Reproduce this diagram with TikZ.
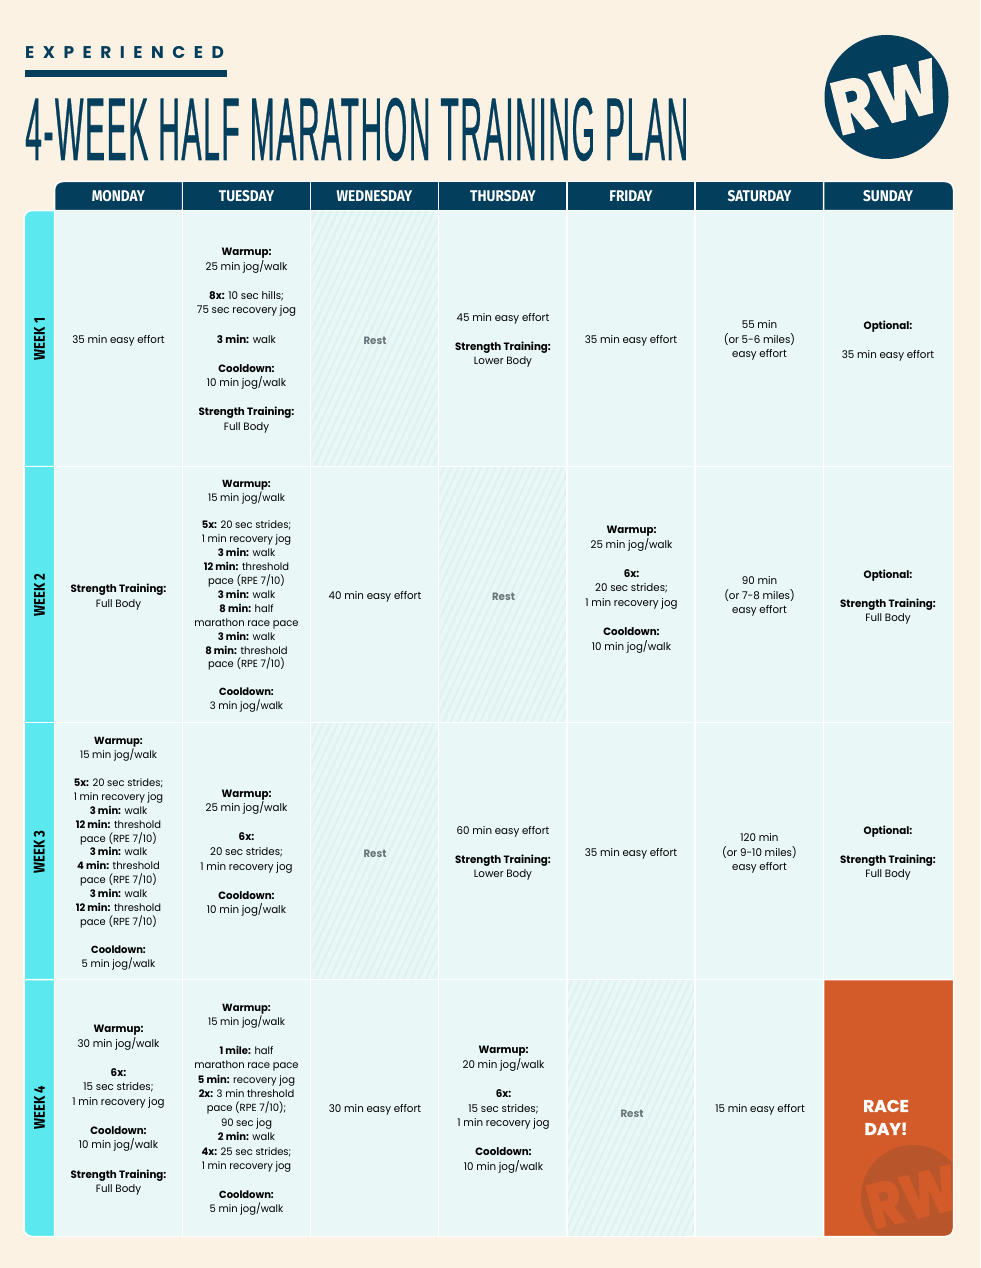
\documentclass[tikz,border=0pt]{standalone}
\usepackage{fontspec}
\setmainfont{Poppins}
\newfontfamily\bodyfont[FakeStretch=0.97]{Poppins}
\newfontfamily\hdrfont[FakeStretch=0.88]{Fira Sans}
\newfontfamily\weekfont[FakeStretch=0.84]{Fira Sans}
\newfontfamily\titlefont[FakeBold=0.9,LetterSpace=5]{Liberation Sans}
\newfontfamily\kickerfont[LetterSpace=50]{Poppins}
\newfontfamily\logofont[FakeStretch=0.86,FakeBold=2.5]{Poppins}
\newfontfamily\racefont[FakeBold=1]{Poppins}
\definecolor{bgc}{HTML}{FCF2E4}
\definecolor{navy}{HTML}{033E5C}
\definecolor{cellc}{HTML}{E9F8F7}
\definecolor{hatchc}{HTML}{DEF0EF}
\definecolor{cyanc}{HTML}{5BE8EE}
\definecolor{orangec}{HTML}{D35B29}
\definecolor{orangedk}{HTML}{B9552A}
\definecolor{restc}{HTML}{6A7579}
\newcommand{\bb}[1]{\textbf{#1}}
\newcommand{\gap}{\\[14.55pt]}
\newcommand{\gapd}{\\[13.9pt]}
\newcommand{\gapm}{\\[14.4pt]}
\tikzset{
  x=1pt,y=-1pt,
  cellbox/.style={fill=cellc,draw=white,line width=1.5pt},
  celltext/.style={align=center,inner sep=0pt,text=black,yshift=-1.2pt,font=\bodyfont\fontsize{10.6}{14.55}\selectfont},
  densetext/.style={celltext,font=\bodyfont\fontsize{10.3}{13.9}\selectfont},
  midtext/.style={celltext,font=\bodyfont\fontsize{10.3}{14.4}\selectfont},
  resttext/.style={celltext,text=restc,font=\bodyfont\fontsize{10.6}{14.55}\selectfont\bfseries},
  dayhead/.style={text=white,inner sep=0pt,font=\hdrfont\fontsize{15.5}{16}\selectfont\bfseries},
  weeklabel/.style={text=black,inner sep=0pt,rotate=90,font=\weekfont\fontsize{15.5}{16}\selectfont\bfseries},
  hatchline/.style={hatchc,line width=1.9pt},
}
\newcommand{\hatched}[4]{% x1 y1 x2 y2
  \fill[cellc] (#1,#2) rectangle (#3,#4);
  \begin{scope}
    \clip (#1+1,#2+1) rectangle (#3-1,#4-1);
    \foreach \k in {-27,...,27}{
      \draw[hatchline] ({(#1+#3)/2+\k*7.4-60},#4) -- ({(#1+#3)/2+\k*7.4+60},#2);
    }
  \end{scope}
  \draw[white,line width=1.5pt] (#1,#2) rectangle (#3,#4);
}
\begin{document}
\begin{tikzpicture}
\useasboundingbox (0,0) rectangle (980,1268);
\fill[bgc] (0,0) rectangle (980,1268);

% heading
\node[anchor=base west,inner sep=0pt,text=navy,font=\kickerfont\fontsize{17}{18}\selectfont\bfseries] (kicker) at (25,59) {EXPERIENCED};
\fill[navy] (24.5,70.5) rectangle (226.5,77);
\node[anchor=base west,inner sep=0pt,text=navy] (title) at (25,160)
  {\resizebox{663pt}{62pt}{\titlefont 4-WEEK HALF MARATHON TRAINING PLAN}};

% logo
\fill[navy] (886.5,97) circle (62);
\node[inner sep=0pt,text=bgc,rotate=14,font=\logofont\fontsize{74}{74}\selectfont\bfseries] (logo) at (886,97) {RW};

% header row
\path[fill=navy,draw=white,line width=1.5pt] (54.5,210.5) -- (54.5,190) .. controls (54.5,185) and (58,181.5) .. (63,181.5) -- (182.5,181.5) -- (182.5,210.5) -- cycle;
\foreach \a/\b in {182.5/310.5,310.5/438.5,438.5/567,567/695,695/823.5}
  \path[fill=navy,draw=white,line width=1.5pt] (\a,181.5) rectangle (\b,210.5);
\path[fill=navy,draw=white,line width=1.5pt] (823.5,210.5) -- (823.5,181.5) -- (945,181.5) .. controls (950,181.5) and (953.5,185) .. (953.5,190) -- (953.5,210.5) -- cycle;
\node[dayhead] (mon) at (118.5,196) {MONDAY};
\node[dayhead] (tue) at (246.5,196) {TUESDAY};
\node[dayhead] (wed) at (374.5,196) {WEDNESDAY};
\node[dayhead] (thu) at (503,196) {THURSDAY};
\node[dayhead] (fri) at (631,196) {FRIDAY};
\node[dayhead] (sat) at (759.5,196) {SATURDAY};
\node[dayhead] (sun) at (888,196) {SUNDAY};

% week tabs
\path[fill=cyanc,draw=white,line width=1.5pt] (54.5,210.5) -- (32.5,210.5) .. controls (27.5,210.5) and (24,214) .. (24,219) -- (24,466.5) -- (54.5,466.5) -- cycle;
\path[fill=cyanc,draw=white,line width=1.5pt] (24,466.5) rectangle (54.5,722.5);
\path[fill=cyanc,draw=white,line width=1.5pt] (24,722.5) rectangle (54.5,979.5);
\path[fill=cyanc,draw=white,line width=1.5pt] (54.5,979.5) -- (24,979.5) -- (24,1228) .. controls (24,1233) and (27.5,1236.5) .. (32.5,1236.5) -- (54.5,1236.5) -- cycle;
\node[weeklabel] (w1) at (39.5,339) {WEEK 1};
\node[weeklabel] (w2) at (39.5,595) {WEEK 2};
\node[weeklabel] (w3) at (39.5,852) {WEEK 3};
\node[weeklabel] (w4) at (39.5,1108) {WEEK 4};

% plain cells
\foreach \a/\b in {54.5/182.5,182.5/310.5,438.5/567,567/695,695/823.5,823.5/953.5}
  \path[cellbox] (\a,210.5) rectangle (\b,466.5);
\foreach \a/\b in {54.5/182.5,182.5/310.5,310.5/438.5,567/695,695/823.5,823.5/953.5}
  \path[cellbox] (\a,466.5) rectangle (\b,722.5);
\foreach \a/\b in {54.5/182.5,182.5/310.5,438.5/567,567/695,695/823.5,823.5/953.5}
  \path[cellbox] (\a,722.5) rectangle (\b,979.5);
\foreach \a/\b in {54.5/182.5,182.5/310.5,310.5/438.5,438.5/567,695/823.5}
  \path[cellbox] (\a,979.5) rectangle (\b,1236.5);

% rest cells
\hatched{310.5}{210.5}{438.5}{466.5}
\hatched{438.5}{466.5}{567}{722.5}
\hatched{310.5}{722.5}{438.5}{979.5}
\hatched{567}{979.5}{695}{1236.5}

% race day cell
\path[fill=orangec] (823.5,979.5) -- (953.5,979.5) -- (953.5,1228) .. controls (953.5,1233) and (950,1236.5) .. (945,1236.5) -- (823.5,1236.5) -- cycle;
\begin{scope}
  \clip (823.5,979.5) -- (952.5,979.5) -- (952.5,1228) .. controls (952.5,1232.5) and (949.5,1235.5) .. (945,1235.5) -- (823.5,1235.5) -- cycle;
  \fill[orangedk] (913,1197) circle (52);
  \node[inner sep=0pt,text=orangec,rotate=14,font=\logofont\fontsize{62}{62}\selectfont\bfseries] (wmark) at (912.5,1197) {RW};
\end{scope}
\draw[white,line width=1.5pt] (953.5,979.5) -- (953.5,1228) .. controls (953.5,1233) and (950,1236.5) .. (945,1236.5) -- (823.5,1236.5) -- (823.5,979.5) -- cycle;
\node[align=center,inner sep=0pt,text=white,font=\racefont\fontsize{17}{23}\selectfont\bfseries] (race) at (886,1117.5) {RACE\\DAY!};

% week 1
\node[celltext] (a1) at (118.5,339.5) {35 min easy effort};
\node[celltext] (b1) at (246.5,339.5) {\bb{Warmup:}\\25 min jog/walk\gap\bb{8x:} 10 sec hills;\\75 sec recovery jog\gap\bb{3 min:} walk\gap\bb{Cooldown:}\\10 min jog/walk\gap\bb{Strength Training:}\\Full Body};
\node[resttext] (c1) at (375,340) {Rest};
\node[celltext] (d1) at (503,339) {45 min easy effort\gap\bb{Strength Training:}\\Lower Body};
\node[celltext] (e1) at (631,339.5) {35 min easy effort};
\node[celltext] (f1) at (759.5,339.5) {55 min\\(or 5-6 miles)\\easy effort};
\node[celltext] (g1) at (888,339.5) {\bb{Optional:}\gap 35 min easy effort};

% week 2
\node[celltext] (a2) at (118.5,596) {\bb{Strength Training:}\\Full Body};
\node[densetext] (b2) at (246.5,595) {\bb{Warmup:}\\15 min jog/walk\gapd\bb{5x:} 20 sec strides;\\1 min recovery jog\\\bb{3 min:} walk\\\bb{12 min:} threshold\\pace (RPE 7/10)\\\bb{3 min:} walk\\\bb{8 min:} half\\marathon race pace\\\bb{3 min:} walk\\\bb{8 min:} threshold\\pace (RPE 7/10)\gapd\bb{Cooldown:}\\3 min jog/walk};
\node[celltext] (c2) at (375,595.5) {40 min easy effort};
\node[resttext] (d2) at (503.5,596) {Rest};
\node[celltext] (e2) at (631.5,588.5) {\bb{Warmup:}\\25 min jog/walk\gap\bb{6x:}\\20 sec strides;\\1 min recovery jog\gap\bb{Cooldown:}\\10 min jog/walk};
\node[celltext] (f2) at (759.5,595.5) {90 min\\(or 7-8 miles)\\easy effort};
\node[celltext] (g2) at (888,596) {\bb{Optional:}\gap\bb{Strength Training:}\\Full Body};

% week 3
\node[densetext] (a3) at (118.5,852.5) {\bb{Warmup:}\\15 min jog/walk\gapd\bb{5x:} 20 sec strides;\\1 min recovery jog\\\bb{3 min:} walk\\\bb{12 min:} threshold\\pace (RPE 7/10)\\\bb{3 min:} walk\\\bb{4 min:} threshold\\pace (RPE 7/10)\\\bb{3 min:} walk\\\bb{12 min:} threshold\\pace (RPE 7/10)\gapd\bb{Cooldown:}\\5 min jog/walk};
\node[celltext] (b3) at (246.5,852) {\bb{Warmup:}\\25 min jog/walk\gap\bb{6x:}\\20 sec strides;\\1 min recovery jog\gap\bb{Cooldown:}\\10 min jog/walk};
\node[resttext] (c3) at (375,853) {Rest};
\node[celltext] (d3) at (503,852) {60 min easy effort\gap\bb{Strength Training:}\\Lower Body};
\node[celltext] (e3) at (631,852.5) {35 min easy effort};
\node[celltext] (f3) at (759.5,852.5) {120 min\\(or 9-10 miles)\\easy effort};
\node[celltext] (g3) at (888,852) {\bb{Optional:}\gap\bb{Strength Training:}\\Full Body};

% week 4
\node[celltext] (a4) at (118.5,1109) {\bb{Warmup:}\\30 min jog/walk\gap\bb{6x:}\\15 sec strides;\\1 min recovery jog\gap\bb{Cooldown:}\\10 min jog/walk\gap\bb{Strength Training:}\\Full Body};
\node[midtext] (b4) at (246.5,1108.5) {\bb{Warmup:}\\15 min jog/walk\gapm\bb{1 mile:} half\\marathon race pace\\\bb{5 min:} recovery jog\\\bb{2x:} 3 min threshold\\pace (RPE 7/10);\\90 sec jog\\\bb{2 min:} walk\\\bb{4x:} 25 sec strides;\\1 min recovery jog\gapm\bb{Cooldown:}\\5 min jog/walk};
\node[celltext] (c4) at (375,1108.5) {30 min easy effort};
\node[celltext] (d4) at (503.5,1108.5) {\bb{Warmup:}\\20 min jog/walk\gap\bb{6x:}\\15 sec strides;\\1 min recovery jog\gap\bb{Cooldown:}\\10 min jog/walk};
\node[resttext] (e4) at (632,1113) {Rest};
\node[celltext] (f4) at (760,1108.5) {15 min easy effort};
\end{tikzpicture}
\end{document}
